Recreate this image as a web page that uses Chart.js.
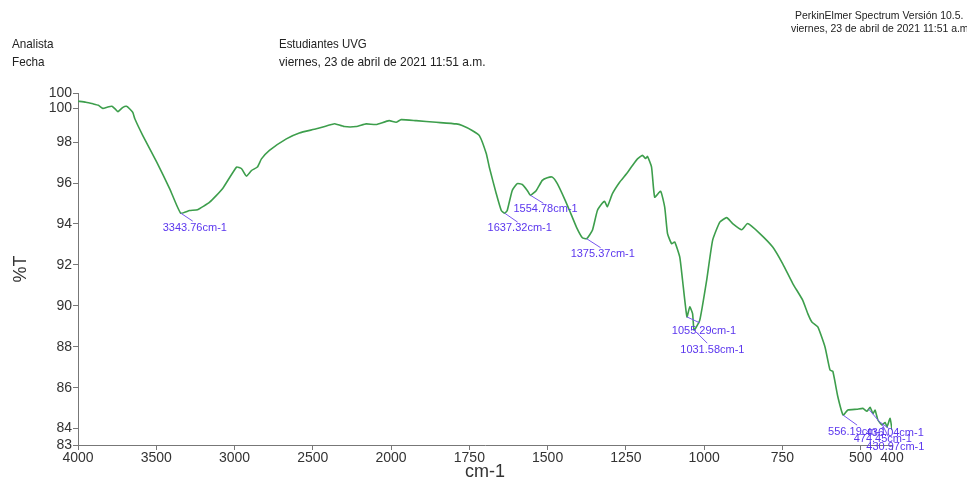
<!DOCTYPE html>
<html lang="es">

<head>
    <meta charset="UTF-8">
    <title>Espectro IR</title>
    <script src="https://cdn.jsdelivr.net/npm/chart.js"></script>
    <style>
        html, body {
            margin: 0;
            padding: 0;
            background: #fff;
            overflow: hidden;
        }

        #wrap {
            position: relative;
            width: 967px;
            height: 483px;
            overflow: hidden;
        }

        .txt {
            position: absolute;
            font-family: "Liberation Sans", Arial, sans-serif;
            color: #222;
            white-space: nowrap;
            transform-origin: left top;
        }

        canvas {
            position: absolute;
            left: 0;
            top: 0;
        }
    </style>
</head>

<body>
    <div id="wrap">
        <canvas id="irChart" width="967" height="483"></canvas>
        <!-- cabecera del informe -->
        <div class="txt" style="left:795px; top:9px; font-size:11px; transform:scaleX(0.95);">PerkinElmer Spectrum Versión 10.5.</div>
        <div class="txt" style="left:791px; top:22px; font-size:11px; transform:scaleX(0.95);">viernes, 23 de abril de 2021 11:51 a.m.</div>
        <div class="txt" style="left:12px; top:36px; font-size:13px; transform:scaleX(0.9);">Analista</div>
        <div class="txt" style="left:12px; top:54px; font-size:13px; transform:scaleX(0.9);">Fecha</div>
        <div class="txt" style="left:279px; top:36px; font-size:13px; transform:scaleX(0.88);">Estudiantes UVG</div>
        <div class="txt" style="left:279px; top:54px; font-size:13px; transform:scaleX(0.92);">viernes, 23 de abril de 2021 11:51 a.m.</div>
    </div>

    <script>
        // espectro: número de onda (cm-1) y transmitancia (%T)
        const wavenumbers = [
            4000, 3950, 3904, 3870, 3841, 3810, 3783, 3760, 3745, 3713, 3690, 3669, 3650, 3637, 3586, 3497, 3414, 3344, 3287, 3236, 3159, 3077,
            2987, 2955, 2924, 2892, 2854, 2828, 2777, 2669, 2586, 2478, 2382, 2360, 2299, 2223, 2159, 2096, 2013,
            1984, 1968, 1920, 1856, 1792, 1773, 1741, 1718, 1696, 1686, 1664, 1648, 1637, 1629, 1613, 1597,
            1581, 1565, 1555, 1536, 1517, 1501, 1485, 1469, 1446, 1430, 1408, 1389, 1375, 1357, 1341, 1325,
            1318, 1309, 1293, 1270, 1248, 1229, 1213, 1197, 1187, 1181, 1168, 1158, 1139, 1126, 1117, 1104,
            1094, 1078, 1069, 1055, 1046, 1037, 1032, 1014, 992, 973, 950, 928, 909, 880, 861, 822,
            781, 749, 717, 685, 669, 656, 637, 614, 598, 589, 573, 556, 541, 512, 493, 480,
            470, 461, 454, 445, 432, 422, 416, 406, 400
        ];
        const transmittance = [
            100.0, 99.95, 99.87, 99.8, 99.65, 99.72, 99.75, 99.6, 99.49, 99.7, 99.75, 99.62, 99.45, 99.14, 98.32, 97.02, 95.72, 94.53, 94.66, 94.7, 95.07, 95.72,
            96.78, 96.7, 96.34, 96.61, 96.78, 97.18, 97.6, 98.16, 98.45, 98.65, 98.86, 98.9, 98.76, 98.76, 98.89, 98.86, 99.05,
            98.97, 99.1, 99.05, 98.97, 98.89, 98.81, 98.57, 98.32, 97.44, 96.76, 95.48, 94.66, 94.53, 94.66, 95.64, 95.97,
            95.93, 95.64, 95.4, 95.64, 96.13, 96.26, 96.29, 95.97, 95.23, 94.66, 93.85, 93.33, 93.28, 93.69, 94.66, 95.02,
            95.1, 94.85, 95.48, 96.04, 96.45, 96.86, 97.18, 97.35, 97.2, 97.3, 96.78, 95.31, 95.6, 94.82, 93.53, 93.04,
            93.12, 92.39, 91.25, 89.46, 89.95, 89.62, 88.81, 89.3, 91.25, 93.2, 94.09, 94.31, 94.02, 93.72, 94.02, 93.53,
            92.87, 92.05, 91.09, 90.27, 89.62, 89.21, 88.97, 87.99, 86.86, 86.8, 85.56, 84.66, 84.91, 84.95, 84.99, 84.85,
            85.04, 84.74, 84.9, 84.42, 84.18, 84.3, 84.09, 84.5, 83.93
        ];

        // picos marcados
        const peakWn = [3343.76, 1637.32, 1554.78, 1375.37, 1055.29, 1031.58, 556.19, 474.45, 436.04, 430.97];
        const peakT = [94.53, 94.53, 95.4, 93.28, 89.46, 88.81, 84.66, 84.95, 84.3, 84.2];
        const peakLabels = peakWn.map(w => w.toFixed(2) + 'cm-1');

        // ejes
        const xTickValues = [4000, 3500, 3000, 2500, 2000, 1750, 1500, 1250, 1000, 750, 500, 400];
        const yTickValues = [83.2, 84, 86, 88, 90, 92, 94, 96, 98, 99.66, 100.4];
        const yTickLabels = ['83', '84', '86', '88', '90', '92', '94', '96', '98', '100', '100'];

        // posición de las etiquetas respecto al pico (dx, dy del texto; lx, ly fin de la línea)
        const labelOffsets = [
            [-18, 15, 12, 8], [-17, 15, 13, 9], [-17, 14, 13, 8], [-16, 15, 14, 9], [-15, 14, 13, 6],
            [-14, 20, 13, 13], [-15, 17, 14, 10], [-15, 30, 12, 14], [-15, 10, 8, 6], [-16, 22, 6, 12]
        ];

        // escala expandida por debajo de 2000 cm-1
        function warp(w) { return w <= 2000 ? w : 2000 + (w - 2000) / 2; }
        function unwarp(v) { return v <= 2000 ? v : 2000 + (v - 2000) * 2; }

        const points = wavenumbers.map((w, i) => ({ x: warp(w), y: transmittance[i] }));

        const peakPlugin = {
            id: 'peaks',
            afterDatasetsDraw(chart) {
                const c = chart.ctx;
                const xs = chart.scales.x, ys = chart.scales.y;
                c.save();
                c.font = '11px "Liberation Sans", Arial, sans-serif';
                c.fillStyle = '#5a35ee';
                c.strokeStyle = '#7755ee';
                c.lineWidth = 1;
                c.textBaseline = 'middle';
                peakWn.forEach((w, i) => {
                    const px = xs.getPixelForValue(warp(w));
                    const py = ys.getPixelForValue(peakT[i]);
                    const o = labelOffsets[i];
                    c.beginPath();
                    c.moveTo(px, py);
                    c.lineTo(px + o[2], py + o[3]);
                    c.stroke();
                    c.fillText(peakLabels[i], px + o[0], py + o[1]);
                });
                c.restore();
            }
        };

        const ctx = document.getElementById('irChart').getContext('2d');
        const irChart = new Chart(ctx, {
            type: 'line',
            data: {
                datasets: [{
                    data: points,
                    borderColor: '#3d9e4c',
                    borderWidth: 1.6,
                    pointRadius: 0,
                    tension: 0.15,
                    fill: false
                }]
            },
            options: {
                responsive: false,
                animation: false,
                layout: { padding: { left: 0, right: 75, top: 93, bottom: 0 } },
                plugins: { legend: { display: false }, tooltip: { enabled: false } },
                scales: {
                    x: {
                        type: 'linear',
                        reverse: true,
                        min: 400,
                        max: 3000,
                        afterFit: s => { s.height = 38; },
                        afterBuildTicks: s => { s.ticks = xTickValues.map(v => ({ value: warp(v) })); },
                        ticks: {
                            autoSkip: false,
                            maxRotation: 0,
                            padding: 0,
                            color: '#333',
                            font: { family: '"Liberation Sans", Arial, sans-serif', size: 14 },
                            callback: v => String(Math.round(unwarp(v)))
                        },
                        grid: { drawOnChartArea: false, drawTicks: true, tickLength: 5, color: '#777' },
                        border: { display: true, color: '#777', width: 1 },
                        title: {
                            display: true, text: 'cm-1', color: '#333',
                            font: { family: '"Liberation Sans", Arial, sans-serif', size: 18 },
                            padding: { top: 0, bottom: 0 }
                        }
                    },
                    y: {
                        min: 83.2,
                        max: 100.4,
                        afterFit: s => { s.width = 78; },
                        afterBuildTicks: s => { s.ticks = yTickValues.map(v => ({ value: v })); },
                        ticks: {
                            autoSkip: false,
                            padding: 1,
                            color: '#333',
                            font: { family: '"Liberation Sans", Arial, sans-serif', size: 14 },
                            callback: (v) => yTickLabels[yTickValues.indexOf(v)]
                        },
                        grid: { drawOnChartArea: false, drawTicks: true, tickLength: 5, color: '#777' },
                        border: { display: true, color: '#777', width: 1 },
                        title: {
                            display: true, text: '%T', color: '#333',
                            font: { family: '"Liberation Sans", Arial, sans-serif', size: 18 },
                            padding: { top: 10, bottom: 0 }
                        }
                    }
                }
            },
            plugins: [peakPlugin]
        });
    </script>
</body>

</html>
